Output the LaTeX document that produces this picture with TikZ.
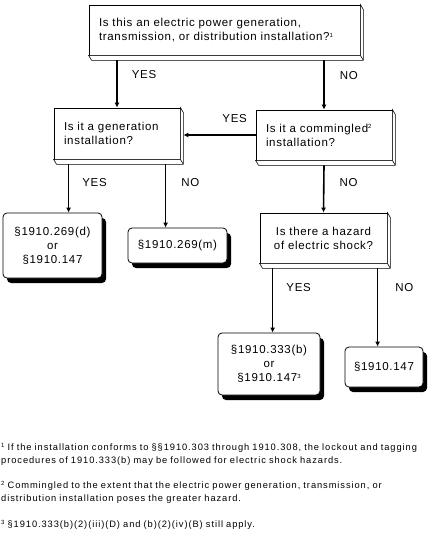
\documentclass[tikz,border=0pt]{standalone}
\usepackage{fontspec}
\setmainfont{Liberation Sans}[LetterSpace=6]
\newfontfamily\fnfont{Liberation Sans}[LetterSpace=10]
\usetikzlibrary{positioning,shadows,arrows.meta}

\newcommand\fnmark[1]{\raisebox{.55ex}{\fontsize{6}{6}\selectfont#1}}

\tikzset{
  ques/.style={draw,fill=white,line width=.8pt,inner xsep=10pt,inner ysep=0pt,align=left,
    font=\fontsize{11.5}{14}\selectfont},
  ans/.style={draw,fill=white,line width=.8pt,rounded corners=4pt,inner sep=0pt,align=center,
    font=\fontsize{11.5}{14}\selectfont,
    drop shadow={shadow xshift=4pt,shadow yshift=-5pt,fill=black,opacity=1}},
  arr/.style={line width=1.6pt,-{Latex[length=5pt,width=5pt]}},
  lbl/.style={inner sep=0pt,font=\fontsize{11.5}{13}\selectfont},
  fnote/.style={inner sep=0pt,anchor=base west,text width=430pt,align=left,
    font=\fnfont\fontsize{9.3}{13}\selectfont}
}

\begin{document}
\begin{tikzpicture}[x=1pt,y=-1pt]
  \useasboundingbox[fill=white] (0,0) rectangle (432,536);

  % questions
  \path (224.5,30) node[ques,text width=251pt,minimum height=50pt] (top)
    {Is this an electric power generation,\\transmission, or distribution installation?\fnmark{1}};
  \path (117,133.5) node[ques,text width=106pt,minimum height=51pt] (gen)
    {Is it a generation\\installation?};
  \path (324,135) node[ques,text width=116pt,minimum height=50pt] (comm)
    {Is it a commingled\fnmark{2}\\installation?};
  \path (323.5,238) node[ques,align=center,text width=107pt,minimum height=50pt] (hazard)
    {Is there a hazard\\of electric shock?};

  % bevelled edges
  \foreach \n in {top,gen,comm,hazard}
    \draw[fill=white,line width=.6pt] (\n.north east) -- ++(3,5) -- ([shift={(3,5)}]\n.south east)
      -- ([shift={(3,5)}]\n.south west) -- (\n.south west) -- (\n.south east) -- cycle
      (\n.south east) -- +(3,5);

  % answers
  \path (52.5,245.5) node[ans,minimum width=99pt,minimum height=65pt] (d269)
    {\S1910.269(d)\\or\\\S1910.147};
  \path (177.5,245.5) node[ans,minimum width=99pt,minimum height=35pt] (m269)
    {\S1910.269(m)};
  \path (269,364) node[ans,minimum width=102pt,minimum height=62pt] (b333)
    {\S1910.333(b)\\or\\\S1910.147\fnmark{3}};
  \path (384,367) node[ans,minimum width=78pt,minimum height=40pt] (o147)
    {\S1910.147};

  % connectors
  \draw[arr] ([yshift=-5pt]top.south -| gen.north) -- (gen.north)
    node[lbl,pos=.3,right=14pt] {YES};
  \draw[arr] ([yshift=-5pt]top.south -| comm.north) -- (comm.north)
    node[lbl,pos=.3,right=15pt] {NO};
  \draw[arr] (comm.west) -- ([xshift=3pt]gen.east |- comm.west)
    node[lbl,pos=.29,above=12pt] {YES};
  \draw[arr] ([xshift=15pt,yshift=-5pt]gen.south west) -- ([xshift=15pt]gen.south west |- d269.north)
    node[lbl,pos=.37,right=13pt] {YES};
  \draw[arr] ([xshift=112pt,yshift=-5pt]gen.south west) -- ([xshift=112pt]gen.south west |- m269.north)
    node[lbl,pos=.28,right=15pt] {NO};
  \draw[arr] ([yshift=-5pt]comm.south) -- (hazard.north)
    node[lbl,pos=.37,right=15pt] {NO};
  \draw[arr] ([xshift=13pt,yshift=-5pt]hazard.south west) -- ([xshift=13pt]hazard.south west |- b333.north)
    node[lbl,pos=.3,right=13pt] {YES};
  \draw[arr] ([xshift=118pt,yshift=-5pt]hazard.south west) -- ([xshift=118pt]hazard.south west |- o147.north)
    node[lbl,pos=.24,right=17pt] {NO};

  % footnotes
  \path (1,450) node[fnote] (fn1)
    {\fnmark{1} If the installation conforms to \S\S1910.303 through 1910.308, the lockout and tagging\\procedures of 1910.333(b) may be followed for electric shock hazards.};
  \path (1,488) node[fnote] (fn2)
    {\fnmark{2} Commingled to the extent that the electric power generation, transmission, or\\distribution installation poses the greater hazard.};
  \path (1,527) node[fnote] (fn3)
    {\fnmark{3} \S1910.333(b)(2)(iii)(D) and (b)(2)(iv)(B) still apply.};
\end{tikzpicture}
\end{document}
